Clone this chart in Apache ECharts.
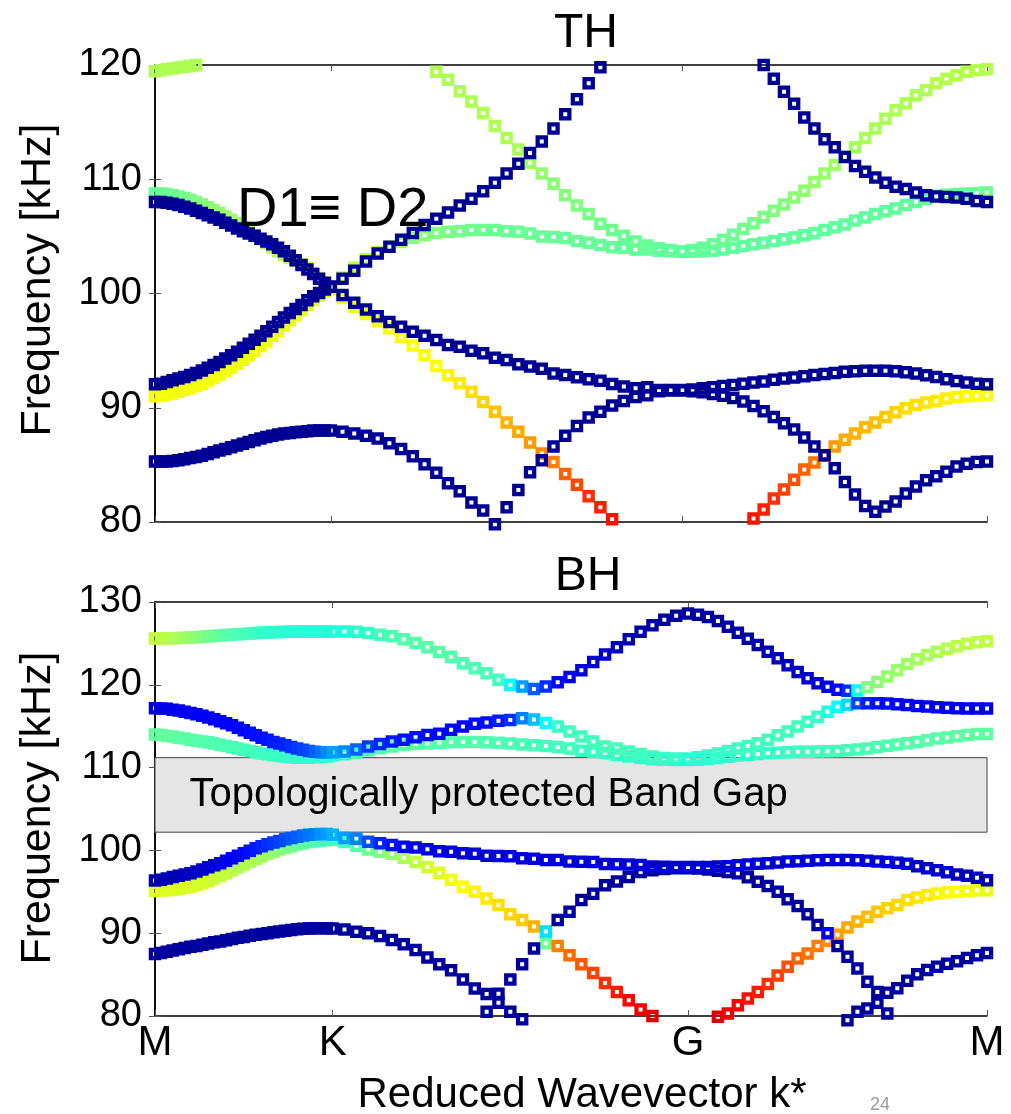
<!DOCTYPE html>
<html><head><meta charset="utf-8">
<script src="https://cdn.jsdelivr.net/npm/echarts@6/dist/echarts.min.js"></script>
<style>html,body{margin:0;padding:0;background:#fff}#chart{width:1011px;height:1114px}</style>
</head><body><div id="chart"></div>
<script>
// ---- axes / ticks ----
const kLabels = ['M', 'K', 'G', 'M'];
const kTicksTop = [0, 0.3333, 1, 1.5774];   // symmetry points (reduced wavevector) TH panel
const kTicksBot = [0, 0.3333, 1, 1.5610];   // symmetry points BH panel
const samplesPerSegment = 30;               // k-points per path segment M-K, K-G, G-M
const yRangeTop = [80, 120];
const yRangeBot = [80, 130];
const gapBand = [102.2, 111.2];
const gapText = 'Topologically protected Band Gap';

// ---- TH panel bands (frequency kHz at 91 k-points: 31 M-K, 30 K-G, 30 G-M) ----
const thA = [85.3,85.3,85.3,85.35,85.4,85.5,85.6,85.7,85.8,85.95,86.1,86.25,86.4,86.55,86.7,86.85,87.0,87.15,87.3,87.45,87.55,87.65,87.75,87.8,87.85,87.9,87.95,88.0,88.0,88.0,88.0,
 87.9,87.75,87.55,87.3,86.9,86.4,85.75,85.05,84.3,83.4,82.7,81.7,81.0,79.8,81.3,82.8,84.35,85.4,86.6,87.55,88.4,89.15,89.65,90.2,90.6,90.95,91.1,91.45,91.5,91.5,
 91.45,91.35,91.2,91.05,90.85,90.55,90.15,89.7,89.2,88.65,88.1,87.4,86.6,85.85,84.7,83.5,82.4,81.4,80.9,81.35,81.8,82.5,83.1,83.65,84.0,84.4,84.85,85.1,85.25,85.3];
const thA_c = 0.02;
const thB = [92.05,92.1,92.25,92.4,92.55,92.7,92.87,93.05,93.25,93.5,93.75,94.0,94.3,94.6,94.9,95.25,95.6,95.95,96.3,96.7,97.1,97.5,97.9,98.3,98.65,99.0,99.4,99.75,100.05,100.35,100.6,
 99.87,99.2,98.6,98.0,97.5,97.1,96.66,96.3,95.93,95.49,95.35,95.0,94.77,94.38,94.18,93.8,93.6,93.42,93.0,92.87,92.66,92.5,92.37,92.08,91.85,91.7,91.79,91.55,91.55,91.55,
 91.6,91.7,91.8,91.9,92.0,92.1,92.2,92.3,92.45,92.55,92.65,92.75,92.87,92.95,93.05,93.15,93.2,93.24,93.24,93.24,93.2,93.1,93.0,92.85,92.7,92.5,92.35,92.2,92.1,92.05];
const thB_c = 0.02;
const thC = [91.0,91.05,91.15,91.25,91.4,91.55,91.7,91.9,92.1,92.35,92.6,92.9,93.2,93.5,93.85,94.2,94.6,95.0,95.4,95.85,96.3,96.75,97.2,97.65,98.1,98.55,99.0,99.4,99.8,100.15,100.4,
 99.6,98.85,98.2,97.6,96.95,96.2,95.45,94.6,93.65,92.85,92.15,91.4,90.5,89.65,88.7,87.9,86.95,86.0,85.25,84.2,83.25,82.25,81.3,80.25,null,null,null,null,null,null,
 null,null,null,null,null,null,80.3,81.1,82.05,82.85,83.7,84.6,85.2,85.8,86.6,87.2,87.75,88.3,88.7,89.2,89.6,89.95,90.25,90.45,90.6,90.8,90.95,91.0,91.05,91.1];
const thC_c = [0.615,0.615,0.615,0.615,0.615,0.615,0.615,0.615,0.615,0.615,0.612,0.612,0.612,0.612,0.612,0.61,0.61,0.61,0.61,0.61,0.608,0.608,0.606,0.606,0.604,0.604,0.602,0.602,0.6,0.6,0.6,
 0.605,0.61,0.61,0.615,0.615,0.62,0.62,0.622,0.625,0.635,0.645,0.655,0.668,0.685,0.7,0.71,0.725,0.74,0.75,0.78,0.805,0.83,0.845,0.86,null,null,null,null,null,null,
 null,null,null,null,null,null,0.86,0.845,0.83,0.81,0.795,0.78,0.765,0.75,0.725,0.71,0.7,0.695,0.69,0.68,0.67,0.66,0.655,0.65,0.645,0.64,0.635,0.63,0.625,0.62];
const thD = [108.75,108.75,108.7,108.6,108.5,108.35,108.2,108.0,107.8,107.55,107.3,107.05,106.75,106.45,106.15,105.8,105.45,105.1,104.75,104.4,104.05,103.7,103.4,103.1,102.85,102.55,102.2,101.8,101.35,100.95,100.6,
 101.4,102.25,103.0,103.6,104.1,104.5,104.85,105.1,105.3,105.4,105.45,105.55,105.55,105.55,105.45,105.4,105.25,105.0,104.95,104.85,104.6,104.45,104.25,104.05,104.0,103.85,103.85,103.75,103.7,103.65,
 103.65,103.7,103.75,103.85,104.0,104.15,104.3,104.45,104.6,104.75,104.9,105.1,105.3,105.55,105.8,106.05,106.4,106.65,106.95,107.2,107.45,107.75,108.0,108.3,108.55,108.65,108.7,108.75,108.8,108.85];
const thD_c = [0.475,0.475,0.48,0.48,0.485,0.49,0.495,0.5,0.505,0.51,0.515,0.52,0.525,0.53,0.535,0.54,0.54,0.545,0.545,0.55,0.55,0.555,0.555,0.56,0.56,0.565,0.565,0.57,0.57,0.57,0.57,
 0.565,0.56,0.555,0.545,0.535,0.525,0.515,0.505,0.5,0.495,0.49,0.485,0.485,0.48,0.48,0.48,0.478,0.478,0.476,0.476,0.475,0.475,0.474,0.474,0.473,0.473,0.472,0.472,0.471,0.47,
 0.47,0.47,0.47,0.47,0.47,0.47,0.47,0.47,0.47,0.47,0.47,0.47,0.47,0.47,0.47,0.47,0.47,0.47,0.47,0.47,0.472,0.472,0.474,0.474,0.476,0.476,0.478,0.478,0.48,0.48];
const thE = [108.0,108.0,107.95,107.85,107.75,107.6,107.45,107.25,107.05,106.85,106.65,106.45,106.2,105.95,105.7,105.45,105.25,105.05,104.8,104.55,104.3,104.0,103.7,103.3,102.9,102.5,102.1,101.7,101.3,100.95,100.6,
 101.3,102.0,102.8,103.5,104.1,104.7,105.3,106.0,106.55,107.1,107.7,108.3,108.95,109.7,110.5,111.35,112.3,113.3,114.45,115.7,117.0,118.4,119.8,null,null,null,null,null,null,null,
 null,null,null,null,null,null,null,120.0,118.8,117.65,116.6,115.4,114.45,113.5,112.8,111.95,111.15,110.65,110.15,109.7,109.35,109.15,108.85,108.6,108.5,108.45,108.4,108.3,108.1,108.0];
const thE_c = 0.02;
const thF = [119.45,119.55,119.62,119.7,119.78,119.85,119.92,120.0,null,null,null,null,null,null,null,null,null,null,null,null,null,null,null,null,null,null,null,null,null,null,null,
 null,null,null,null,null,null,null,null,119.4,118.7,117.7,116.8,115.8,114.65,113.6,112.6,111.45,110.5,109.6,108.6,107.7,106.95,106.1,105.55,105.05,104.55,104.2,103.95,103.8,103.7,
 103.8,104.0,104.3,104.7,105.15,105.65,106.15,106.7,107.25,107.8,108.4,109.0,109.75,110.5,111.25,112.0,112.8,113.6,114.45,115.3,116.05,116.65,117.35,117.8,118.4,118.8,119.1,119.4,119.55,119.62];
const thF_c = [0.545,0.545,0.545,0.545,0.545,0.545,0.545,0.545,null,null,null,null,null,null,null,null,null,null,null,null,null,null,null,null,null,null,null,null,null,null,null,
 null,null,null,null,null,null,null,null,0.545,0.545,0.545,0.545,0.545,0.545,0.545,0.54,0.53,0.52,0.51,0.505,0.5,0.495,0.49,0.485,0.48,0.478,0.476,0.474,0.472,0.47,
 0.472,0.474,0.476,0.478,0.48,0.485,0.49,0.495,0.5,0.505,0.51,0.515,0.52,0.525,0.53,0.535,0.535,0.54,0.54,0.54,0.545,0.545,0.545,0.545,0.55,0.55,0.55,0.55,0.55,0.55];

// ---- BH panel bands ----
const bhP = [87.5,87.6,87.75,87.9,88.05,88.2,88.35,88.45,88.6,88.75,88.9,89.0,89.15,89.3,89.45,89.55,89.7,89.8,89.9,90.0,90.1,90.2,90.3,90.4,90.48,90.55,90.58,90.6,90.6,90.6,90.58,
 90.46,90.17,89.98,89.65,89.17,88.68,87.96,87.08,86.25,85.54,84.41,83.33,82.65,81.6,80.5,79.6,null,null,null,null,null,null,null,null,null,null,null,null,null,null,
 null,null,null,null,null,null,null,null,null,null,null,null,null,null,null,79.5,80.5,80.9,81.6,82.8,83.35,84.25,85.05,85.55,85.95,86.3,86.6,87.0,87.35,87.6];
const bhP_c = 0.03;
const bhV = [null,null,null,null,null,null,null,null,null,null,null,null,null,null,null,null,null,null,null,null,null,null,null,null,null,null,null,null,null,null,null,
 null,null,null,null,null,null,null,null,null,null,null,null,80.5,82.7,84.4,86.25,88.15,90.2,91.6,92.6,94.0,94.75,95.8,96.25,96.8,97.4,97.6,97.75,97.85,97.85,
 97.8,97.7,97.55,97.4,97.23,96.75,96.22,95.7,95.0,94.1,93.3,92.3,91.0,90.0,88.45,87.15,85.75,84.15,82.9,80.3,null,null,null,null,null,null,null,null,null,null];
const bhV_c = [null,null,null,null,null,null,null,null,null,null,null,null,null,null,null,null,null,null,null,null,null,null,null,null,null,null,null,null,null,null,null,
 null,null,null,null,null,null,null,null,null,null,null,null,0.03,0.03,0.03,0.03,0.03,0.345,0.03,0.03,0.03,0.03,0.03,0.03,0.03,0.03,0.03,0.03,0.03,0.03,
 0.03,0.03,0.03,0.03,0.03,0.03,0.03,0.03,0.03,0.03,0.03,0.03,0.03,0.12,0.03,0.03,0.03,0.03,0.03,0.03,null,null,null,null,null,null,null,null,null,null];
const bhQ = [96.35,96.45,96.6,96.8,96.95,97.1,97.25,97.45,97.7,97.95,98.2,98.45,98.75,99.05,99.35,99.65,99.95,100.25,100.5,100.75,100.95,101.15,101.35,101.5,101.65,101.8,101.9,101.95,101.98,101.98,101.9,
 101.5,101.4,101.05,100.85,100.65,100.45,100.35,100.15,99.9,99.85,99.65,99.6,99.35,99.32,99.3,99.05,99.0,98.85,98.84,98.65,98.64,98.6,98.35,98.32,98.3,98.25,98.05,98.03,98.0,98.0,
 98.0,98.0,98.05,98.1,98.2,98.3,98.4,98.45,98.55,98.65,98.7,98.75,98.8,98.84,98.84,98.84,98.8,98.75,98.65,98.6,98.5,98.4,98.1,97.85,97.6,97.35,97.1,96.95,96.7,96.4];
const bhQ_c = [0.05,0.05,0.05,0.055,0.06,0.06,0.065,0.07,0.075,0.08,0.09,0.1,0.11,0.12,0.125,0.13,0.14,0.15,0.16,0.17,0.18,0.19,0.2,0.21,0.22,0.23,0.24,0.25,0.27,0.28,0.3,
 0.28,0.25,0.2,0.16,0.14,0.12,0.11,0.1,0.095,0.09,0.09,0.09,0.09,0.09,0.09,0.09,0.09,0.09,0.09,0.09,0.09,0.09,0.09,0.09,0.09,0.09,0.09,0.09,0.09,0.09,
 0.09,0.09,0.09,0.09,0.09,0.09,0.09,0.09,0.09,0.09,0.09,0.09,0.09,0.09,0.09,0.09,0.09,0.09,0.09,0.09,0.085,0.085,0.08,0.08,0.075,0.07,0.065,0.06,0.055,0.05];
const bhR = [95.1,95.15,95.2,95.25,95.35,95.5,95.65,95.85,96.05,96.3,96.6,96.9,97.25,97.6,97.95,98.3,98.65,99.0,99.3,99.6,99.85,100.1,100.3,100.5,100.7,100.85,101.0,101.1,101.2,101.25,101.3,
 101.0,100.55,100.1,99.85,99.6,99.1,98.6,98.0,97.3,96.45,95.6,95.0,94.2,93.4,92.3,91.6,90.8,88.8,88.45,87.35,86.25,85.2,84.0,82.9,81.9,80.8,80.0,null,null,null,
 null,null,79.9,80.3,81.3,82.1,82.9,83.85,84.9,85.95,86.95,87.55,88.45,89.1,89.8,90.7,91.4,92.0,92.6,93.0,93.4,94.0,94.3,94.6,94.8,94.95,95.0,95.1,95.2,95.2];
const bhR_c = [0.595,0.595,0.595,0.595,0.59,0.59,0.59,0.585,0.585,0.58,0.575,0.57,0.565,0.56,0.555,0.55,0.545,0.54,0.535,0.53,0.52,0.51,0.5,0.49,0.48,0.47,0.46,0.45,0.445,0.44,0.44,
 0.44,0.46,0.48,0.5,0.52,0.54,0.56,0.58,0.595,0.61,0.625,0.635,0.645,0.655,0.665,0.675,0.7,0.48,0.75,0.77,0.79,0.81,0.83,0.85,0.87,0.885,0.9,null,null,null,
 null,null,0.9,0.89,0.875,0.86,0.85,0.83,0.815,0.8,0.78,0.765,0.75,0.735,0.72,0.71,0.7,0.69,0.68,0.67,0.665,0.655,0.65,0.645,0.635,0.63,0.625,0.615,0.61,0.605];
const bhS = [114.0,113.95,113.85,113.75,113.6,113.5,113.35,113.25,113.15,113.05,112.9,112.75,112.6,112.45,112.3,112.15,112.0,111.85,111.7,111.6,111.5,111.4,111.3,111.25,111.2,111.2,111.2,111.25,111.3,111.35,111.45,
 111.6,111.75,112.1,112.35,112.55,112.75,112.85,112.9,113.0,113.05,113.1,113.1,113.05,113.0,112.9,112.8,112.7,112.6,112.5,112.3,112.05,111.9,111.75,111.55,111.35,111.15,111.0,110.95,110.93,110.93,
 110.95,111.05,111.15,111.3,111.45,111.55,111.65,111.75,111.8,111.85,111.9,111.92,111.95,111.97,112.0,112.1,112.2,112.3,112.5,112.65,112.8,112.95,113.1,113.3,113.5,113.65,113.8,113.95,114.05,114.07];
const bhS_c = [0.47,0.47,0.47,0.468,0.466,0.464,0.462,0.46,0.458,0.456,0.454,0.452,0.45,0.448,0.446,0.444,0.442,0.44,0.438,0.436,0.434,0.432,0.43,0.428,0.426,0.424,0.422,0.42,0.42,0.42,0.42,
 0.43,0.44,0.45,0.455,0.46,0.46,0.46,0.46,0.46,0.458,0.456,0.454,0.452,0.45,0.448,0.446,0.444,0.442,0.44,0.438,0.435,0.432,0.43,0.428,0.425,0.422,0.42,0.418,0.416,0.415,
 0.415,0.416,0.418,0.42,0.422,0.424,0.426,0.428,0.43,0.432,0.434,0.436,0.438,0.44,0.442,0.444,0.446,0.448,0.45,0.452,0.454,0.456,0.458,0.46,0.462,0.464,0.466,0.468,0.47,0.47];
const bhT = [117.18,117.15,117.1,117.0,116.9,116.75,116.6,116.45,116.25,116.05,115.85,115.6,115.35,115.1,114.8,114.5,114.2,113.9,113.6,113.35,113.1,112.9,112.7,112.5,112.3,112.15,112.0,111.9,111.85,111.85,111.86,
 111.94,112.2,112.54,112.86,113.14,113.35,113.67,113.95,114.1,114.56,114.96,115.3,115.45,115.65,115.75,115.95,115.8,115.4,114.95,114.35,113.75,113.15,112.55,112.3,111.95,111.65,111.35,111.15,111.1,111.1,
 111.25,111.45,111.7,112.0,112.3,112.6,112.95,113.35,113.9,114.35,114.95,115.55,116.15,116.75,117.35,117.6,117.78,117.78,117.78,117.75,117.65,117.55,117.45,117.37,117.3,117.22,117.18,117.15,117.15,117.15];
const bhT_c = [0.1,0.1,0.1,0.105,0.105,0.11,0.11,0.11,0.115,0.115,0.12,0.12,0.125,0.125,0.13,0.13,0.135,0.14,0.14,0.145,0.15,0.155,0.16,0.17,0.18,0.19,0.2,0.22,0.24,0.26,0.28,
 0.26,0.22,0.18,0.16,0.15,0.14,0.14,0.13,0.13,0.13,0.13,0.135,0.14,0.15,0.17,0.25,0.31,0.375,0.43,0.44,0.44,0.44,0.445,0.445,0.44,0.44,0.435,0.43,0.43,0.42,
 0.42,0.425,0.43,0.43,0.435,0.435,0.44,0.44,0.44,0.44,0.44,0.435,0.43,0.41,0.375,0.34,0.19,0.15,0.14,0.13,0.13,0.125,0.12,0.12,0.115,0.115,0.11,0.11,0.105,0.1];
const bhU = [125.6,125.6,125.6,125.62,125.65,125.67,125.7,125.75,125.8,125.85,125.9,125.95,126.0,126.05,126.1,126.15,126.2,126.25,126.3,126.33,126.35,126.38,126.4,126.42,126.45,126.45,126.45,126.45,126.45,126.45,126.45,
 126.45,126.4,126.25,126.05,125.85,125.5,125.05,124.55,123.95,123.4,122.6,122.0,121.4,120.6,120.0,119.8,119.5,119.8,120.3,120.95,121.75,122.75,123.65,124.55,125.5,126.4,127.2,127.85,128.35,128.6,
 128.45,128.2,127.7,127.0,126.3,125.55,124.8,124.0,123.2,122.35,121.55,120.8,120.2,119.75,119.4,119.27,119.3,119.7,120.35,121.0,121.75,122.5,123.1,123.6,124.0,124.35,124.65,124.95,125.15,125.25];
const bhU_c = [0.565,0.56,0.555,0.55,0.54,0.53,0.52,0.51,0.5,0.49,0.48,0.47,0.46,0.455,0.45,0.445,0.44,0.435,0.43,0.425,0.42,0.42,0.415,0.415,0.41,0.41,0.41,0.41,0.41,0.41,0.41,
 0.41,0.42,0.43,0.44,0.45,0.455,0.46,0.46,0.46,0.455,0.45,0.45,0.445,0.44,0.375,0.28,0.22,0.17,0.13,0.11,0.09,0.08,0.07,0.06,0.05,0.04,0.035,0.03,0.03,0.03,
 0.03,0.03,0.03,0.035,0.04,0.04,0.045,0.05,0.055,0.06,0.065,0.07,0.08,0.095,0.125,0.17,0.375,0.5,0.51,0.52,0.525,0.53,0.535,0.54,0.545,0.55,0.555,0.56,0.56,0.565];

// ---- helpers ----
const FONT = 'Liberation Sans, Arial, sans-serif';
// hollow square marker: outer square with a square hole (transparent centre, as an unfilled marker)
const HOLLOW_SQUARE = 'path://M0 0H25V25H0Z M8.5 8.5V16.5H16.5V8.5Z';
function jet(c) {
  const f = x => Math.round(255 * Math.max(0, Math.min(1, x)));
  return 'rgb(' + f(1.5 - Math.abs(4 * c - 3)) + ',' + f(1.5 - Math.abs(4 * c - 2)) + ',' + f(1.5 - Math.abs(4 * c - 1)) + ')';
}
function kOf(ticks, idx) {
  const seg = Math.min(2, Math.floor(idx / samplesPerSegment));
  const t = (idx - seg * samplesPerSegment) / samplesPerSegment;
  return ticks[seg] + (ticks[seg + 1] - ticks[seg]) * t;
}
function band(vals, cols, ticks, xi, yi) {
  const data = [];
  vals.forEach((v, i) => {
    if (v == null) return;
    const c = Array.isArray(cols) ? cols[i] : cols;
    data.push({ value: [kOf(ticks, i), v], itemStyle: { color: jet(c) } });
  });
  return { type: 'scatter', xAxisIndex: xi, yAxisIndex: yi, data: data, symbol: HOLLOW_SQUARE, symbolSize: 12.5,
    itemStyle: { borderWidth: 0, opacity: 1 }, clip: false, silent: true, z: 2,
    emphasis: { disabled: true } };
}
function xAx(grid, ticks, pos, labels) {
  return { type: 'value', gridIndex: grid, position: pos, min: 0, max: ticks[3],
    axisLine: { show: true, onZero: false, lineStyle: { color: '#000', width: 1.5 } },
    axisTick: { show: true, inside: true, length: 6, customValues: ticks, lineStyle: { color: '#555', width: 1 } },
    axisLabel: labels ? { show: true, customValues: ticks, margin: 6, fontSize: 42, color: '#000', fontFamily: FONT,
      formatter: v => { let b = 0; ticks.forEach((t, i) => { if (Math.abs(t - v) < Math.abs(ticks[b] - v)) b = i; }); return kLabels[b]; } }
      : { show: false },
    splitLine: { show: false } };
}
function yAx(grid, range, pos, labels) {
  return { type: 'value', gridIndex: grid, position: pos, min: range[0], max: range[1], interval: 10,
    axisLine: { show: true, lineStyle: { color: '#000', width: 1.5 } },
    axisTick: { show: true, inside: true, length: 6, lineStyle: { color: '#555', width: 1 } },
    axisLabel: labels ? { show: true, margin: 13, fontSize: 38, color: '#000', fontFamily: FONT } : { show: false },
    splitLine: { show: false } };
}
function txt(x, y, s, size, opts) {
  opts = opts || {};
  const color = opts.color || '#000';
  return { type: 'text', x: x, y: y, rotation: opts.rot || 0, z: 10, silent: true,
    style: { text: s, fill: color, textFill: color, font: size + 'px ' + FONT, fontSize: size, fontFamily: FONT,
      textAlign: opts.align || 'center', align: opts.align || 'center', textVerticalAlign: 'middle', verticalAlign: 'middle' } };
}

const series = [
  band(thC, thC_c, kTicksTop, 0, 0), band(thD, thD_c, kTicksTop, 0, 0), band(thF, thF_c, kTicksTop, 0, 0),
  band(thA, thA_c, kTicksTop, 0, 0), band(thB, thB_c, kTicksTop, 0, 0), band(thE, thE_c, kTicksTop, 0, 0),
  band(bhR, bhR_c, kTicksBot, 2, 2), band(bhS, bhS_c, kTicksBot, 2, 2), band(bhU, bhU_c, kTicksBot, 2, 2),
  band(bhP, bhP_c, kTicksBot, 2, 2), band(bhV, bhV_c, kTicksBot, 2, 2), band(bhQ, bhQ_c, kTicksBot, 2, 2),
  band(bhT, bhT_c, kTicksBot, 2, 2),
  { type: 'scatter', xAxisIndex: 2, yAxisIndex: 2, data: [], z: 5, silent: true,
    markArea: { silent: true,
      itemStyle: { color: '#e5e5e5', borderColor: '#444', borderWidth: 1 },
      label: { show: true, position: 'insideLeft', distance: 35, formatter: gapText, fontSize: 40, color: '#000', fontFamily: FONT },
      data: [[{ xAxis: 0, yAxis: gapBand[0] }, { xAxis: kTicksBot[3], yAxis: gapBand[1] }]] } }
];

const chart = echarts.init(document.getElementById('chart'), null, { renderer: 'canvas' });
chart.setOption({
  animation: false,
  backgroundColor: '#fff',
  grid: [
    { left: 155, top: 65, width: 832, height: 457, containLabel: false, outerBoundsMode: 'none' },
    { left: 155, top: 602, width: 832, height: 414, containLabel: false, outerBoundsMode: 'none' }
  ],
  xAxis: [ xAx(0, kTicksTop, 'bottom', false), xAx(0, kTicksTop, 'top', false),
           xAx(1, kTicksBot, 'bottom', true), xAx(1, kTicksBot, 'top', false) ],
  yAxis: [ yAx(0, yRangeTop, 'left', true), yAx(0, yRangeTop, 'right', false),
           yAx(1, yRangeBot, 'left', true), yAx(1, yRangeBot, 'right', false) ],
  series: series,
  graphic: [
    txt(586, 34, 'TH', 48),
    txt(588, 577, 'BH', 48),
    txt(237, 211, 'D1\u2261 D2', 56, { align: 'left' }),
    txt(38, 280, 'Frequency [kHz]', 43, { rot: Math.PI / 2 }),
    txt(38, 808, 'Frequency [kHz]', 43, { rot: Math.PI / 2 }),
    txt(582, 1095, 'Reduced Wavevector k*', 42),
    txt(880, 1105, '24', 18, { color: '#999' })
  ]
});
</script></body></html>
